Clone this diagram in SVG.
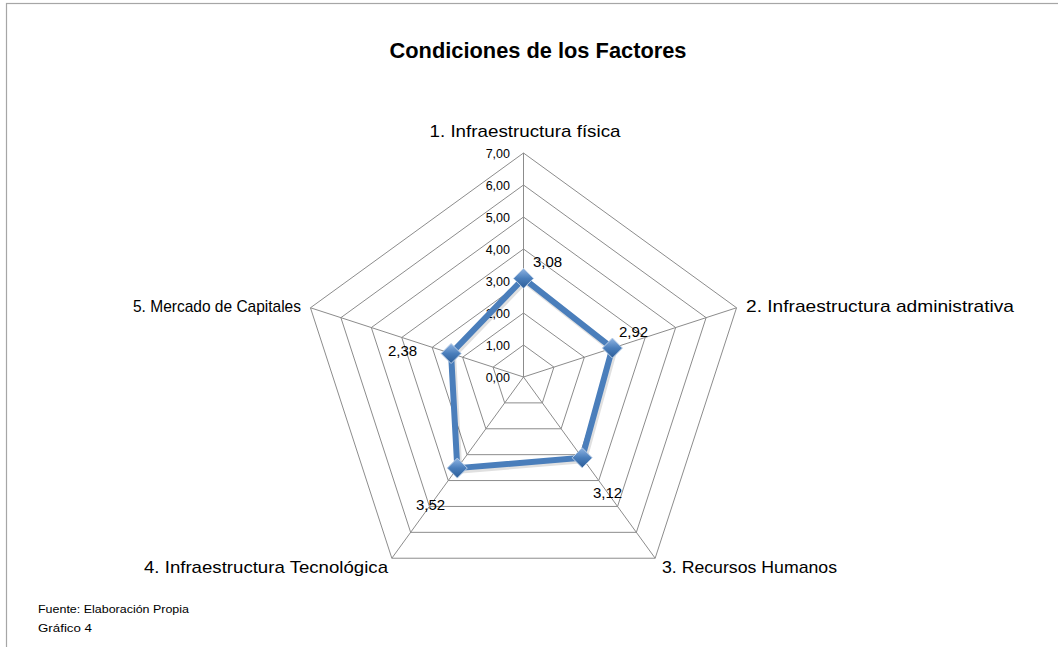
<svg xmlns="http://www.w3.org/2000/svg" width="1058" height="647" viewBox="0 0 1058 647">
<defs>
<style>
.bg{fill:#ffffff}
.frame{fill:none;stroke:#a6a6a6;stroke-width:1.2}
.ring{fill:none;stroke:#8c8c8c;stroke-width:1}
.spoke{stroke:#8c8c8c;stroke-width:1}
.t{font-family:"Liberation Sans",Arial,sans-serif;fill:#000}
.title{font-size:22px;font-weight:bold}
.axis{font-size:17px}
.tick{font-size:12.5px;text-anchor:end}
.val{font-size:15px}
.foot{font-size:11.5px}
.series{fill:none;stroke:#4a7ebb;stroke-width:6;stroke-linejoin:miter}
.shadow{fill:none;stroke:#000;stroke-opacity:0.12;stroke-width:7}
</style>
<linearGradient id="mk" x1="0" y1="0" x2="0" y2="1">
<stop offset="0" stop-color="#8fb4e3"/>
<stop offset="0.5" stop-color="#4a7ebb"/>
<stop offset="1" stop-color="#2c5d98"/>
</linearGradient>
<symbol id="diamond" viewBox="-10 -10 20 20" overflow="visible">
<polygon points="0,-10 10,0 0,10 -10,0" fill="url(#mk)" stroke="#b9cde5" stroke-width="1"/>
</symbol>
</defs>
<rect class="bg" x="0" y="0" width="1058" height="647"/>
<rect class="frame" x="6.5" y="3.5" width="1070" height="700"/>
<g id="title"><text class="t title" x="538" y="58" text-anchor="middle" textLength="297" lengthAdjust="spacingAndGlyphs">Condiciones de los Factores</text></g>
<g id="grid" transform="translate(523.5,377)">
<polygon class="ring" points="0,-32 30.43,-9.89 18.81,25.89 -18.81,25.89 -30.43,-9.89"/>
<polygon class="ring" points="0,-64 60.87,-19.78 37.62,51.78 -37.62,51.78 -60.87,-19.78"/>
<polygon class="ring" points="0,-96 91.30,-29.67 56.43,77.67 -56.43,77.67 -91.30,-29.67"/>
<polygon class="ring" points="0,-128 121.74,-39.55 75.24,103.55 -75.24,103.55 -121.74,-39.55"/>
<polygon class="ring" points="0,-160 152.17,-49.44 94.05,129.44 -94.05,129.44 -152.17,-49.44"/>
<polygon class="ring" points="0,-192 182.60,-59.33 112.86,155.33 -112.86,155.33 -182.60,-59.33"/>
<polygon class="ring" points="0,-224 213.04,-69.22 131.67,181.22 -131.67,181.22 -213.04,-69.22"/>
<line class="spoke" x1="0" y1="0" x2="0" y2="-224"/>
<line class="spoke" x1="0" y1="0" x2="213.04" y2="-69.22"/>
<line class="spoke" x1="0" y1="0" x2="131.67" y2="181.22"/>
<line class="spoke" x1="0" y1="0" x2="-131.67" y2="181.22"/>
<line class="spoke" x1="0" y1="0" x2="-213.04" y2="-69.22"/>
</g>
<g id="ticks">
<text class="t tick" x="510" y="381.5">0,00</text>
<text class="t tick" x="510" y="349.5">1,00</text>
<text class="t tick" x="510" y="317.5">2,00</text>
<text class="t tick" x="510" y="285.5">3,00</text>
<text class="t tick" x="510" y="253.5">4,00</text>
<text class="t tick" x="510" y="221.5">5,00</text>
<text class="t tick" x="510" y="189.5">6,00</text>
<text class="t tick" x="510" y="157.5">7,00</text>
</g>
<g id="connectors" transform="translate(523.5,377)">
<polygon class="shadow" transform="translate(1.5,2)" points="0,-98.56 88.87,-28.87 58.68,80.77 -66.21,91.13 -72.43,-23.53"/>
<polygon class="series" points="0,-98.56 88.87,-28.87 58.68,80.77 -66.21,91.13 -72.43,-23.53"/>
</g>
<g id="p1"><use href="#diamond" x="513.5" y="268.4" width="20" height="20"/><text class="t val" x="533" y="267">3,08</text></g>
<g id="p2"><use href="#diamond" x="602.4" y="338.1" width="20" height="20"/><text class="t val" x="619" y="337">2,92</text></g>
<g id="p3"><use href="#diamond" x="572.2" y="447.8" width="20" height="20"/><text class="t val" x="593" y="498">3,12</text></g>
<g id="p4"><use href="#diamond" x="447.3" y="458.1" width="20" height="20"/><text class="t val" x="416" y="510">3,52</text></g>
<g id="p5"><use href="#diamond" x="441.1" y="343.5" width="20" height="20"/><text class="t val" x="388" y="356">2,38</text></g>
<g id="axis1"><text class="t axis" x="525" y="137" text-anchor="middle" textLength="191" lengthAdjust="spacingAndGlyphs">1. Infraestructura física</text></g>
<g id="axis2"><text class="t axis" x="746" y="312" textLength="268" lengthAdjust="spacingAndGlyphs">2. Infraestructura administrativa</text></g>
<g id="axis3"><text class="t axis" x="662" y="573" textLength="175" lengthAdjust="spacingAndGlyphs">3. Recursos Humanos</text></g>
<g id="axis4"><text class="t axis" x="144" y="573" textLength="244" lengthAdjust="spacingAndGlyphs">4. Infraestructura Tecnológica</text></g>
<g id="axis5"><text class="t axis" x="133" y="312" textLength="168" lengthAdjust="spacingAndGlyphs">5. Mercado de Capitales</text></g>
<g id="footer">
<text class="t foot" x="38" y="613" textLength="151" lengthAdjust="spacingAndGlyphs">Fuente: Elaboración Propia</text>
<text class="t foot" x="38" y="632" textLength="54" lengthAdjust="spacingAndGlyphs">Gráfico 4</text>
</g>
</svg>
